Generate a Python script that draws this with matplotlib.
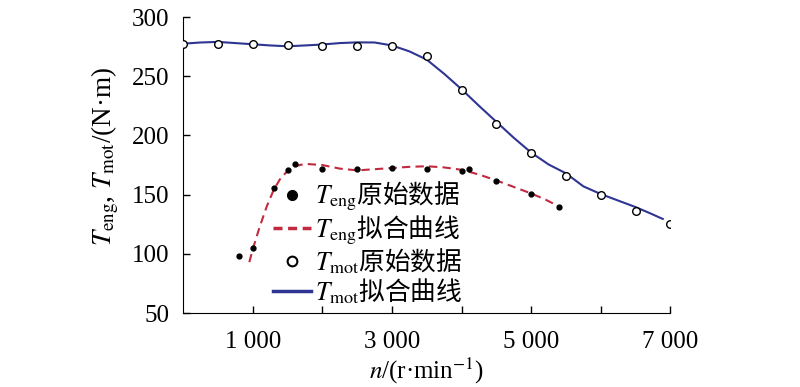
import matplotlib
matplotlib.use('Agg')
import matplotlib.pyplot as plt
from matplotlib.lines import Line2D
from matplotlib.ticker import FixedLocator

plt.rcParams['font.family'] = ['Liberation Serif', 'Noto Sans CJK SC']
plt.rcParams['mathtext.fontset'] = 'stix'

# T_mot raw data (open circles)
mot_n = [0, 500, 1000, 1500, 2000, 2500, 3000, 3500, 4000, 4500, 5000, 5500, 6000, 6500, 7000]
mot_t = [277, 277, 277, 276, 275.8, 275.2, 275.2, 266.8, 238.6, 209.8, 185, 166, 150, 136.6, 125]

# T_mot fitted curve (solid blue)
mot_fit_n = [0, 250, 500, 750, 1000, 1250, 1500, 1750, 2000, 2250, 2500, 2750, 3000, 3250,
             3500, 3750, 4000, 4250, 4500, 4750, 5000, 5250, 5500, 5750, 6000, 6250, 6500, 6700, 6890]
mot_fit_t = [277.5, 278.5, 279, 278, 277, 276, 275.3, 276, 276.8, 278, 278.6, 278.5, 276, 271,
             264, 252, 239, 225, 211.5, 198, 185.5, 175.5, 168, 157, 150.5, 145, 139.5, 134.5, 129.5]

# T_eng raw data (filled dots)
eng_n = [800, 1000, 1300, 1500, 1600, 2000, 2500, 3000, 3500, 4000, 4100, 4500, 5000, 5400]
eng_t = [98.5, 105, 156, 170.5, 176, 171.6, 171.4, 172.7, 171.6, 170.2, 171.4, 161.5, 150.8, 140]

# T_eng fitted curve (red dashed)
eng_fit_n = [950, 1000, 1100, 1200, 1300, 1400, 1500, 1600, 1750, 2000, 2250, 2500, 2750, 3000,
             3250, 3500, 3750, 4000, 4250, 4500, 4750, 5000, 5200, 5400]
eng_fit_t = [93, 104, 123, 140, 154, 164, 170, 174, 176, 175, 172, 170.5, 171.5, 172.5,
             173.5, 174, 173, 171, 167, 162, 156.5, 151, 146, 140]

xticks = [1000, 3000, 5000, 7000]
xtick_labels = ['1 000', '3 000', '5 000', '7 000']
xminor = [2000, 4000, 6000]
yticks = [50, 100, 150, 200, 250, 300]

blue = '#2e3592'
red = '#c22a3f'

fig = plt.figure(figsize=(8, 3.87), dpi=100)
ax = fig.add_axes([0.229, 0.191, 0.609, 0.765])

ax.plot(mot_fit_n, mot_fit_t, color=blue, lw=1.5, zorder=2)
ax.plot(eng_fit_n, eng_fit_t, color=red, lw=1.5, ls=(0, (4, 2.5)), zorder=2)
ax.plot(mot_n, mot_t, ls='none', marker='o', ms=5.5, mfc='white', mec='black', mew=1, zorder=3)
ax.plot(eng_n, eng_t, ls='none', marker='o', ms=3.5, mfc='black', mec='black', zorder=3)

ax.set_xlim(0, 7000)
ax.set_ylim(50, 300)
ax.xaxis.set_major_locator(FixedLocator(xticks))
ax.set_xticklabels(xtick_labels)
ax.xaxis.set_minor_locator(FixedLocator(xminor))
ax.set_yticks(yticks)
for s in ['top', 'right']:
    ax.spines[s].set_visible(False)
ax.tick_params(which='both', direction='in', length=5, width=1, labelsize=18)
ax.tick_params(axis='y', pad=10)
ax.tick_params(axis='x', pad=13)

ax.set_xlabel('$n$/(r·min$^{-1}$)', fontsize=18, labelpad=2)
ax.set_ylabel('$T_{\\rm eng}$, $T_{\\rm mot}$/(N·m)', fontsize=19.5, labelpad=3)
ax.yaxis.set_label_coords(-0.128, 0.53)

handles = [
    Line2D([], [], ls='none', marker='o', ms=7, mfc='black', mec='black'),
    Line2D([], [], color=red, lw=2.5, ls=(0, (2.6, 1.6))),
    Line2D([], [], ls='none', marker='o', ms=7, mfc='white', mec='black', mew=1.5),
    Line2D([], [], color=blue, lw=2.5),
]
labels = ['$T_{\\rm eng}$原始数据', '$T_{\\rm eng}$拟合曲线', '$T_{\\rm mot}$原始数据', '$T_{\\rm mot}$拟合曲线']
fig.legend(handles, labels, loc='upper left', bbox_to_anchor=(0.341, 0.535), frameon=False,
           prop={'family': 'Noto Sans CJK SC', 'size': 18.5},
           handlelength=1.5, handletextpad=0.15, labelspacing=0.0,
           borderpad=0, borderaxespad=0)

fig.savefig('out.png', dpi=100)
